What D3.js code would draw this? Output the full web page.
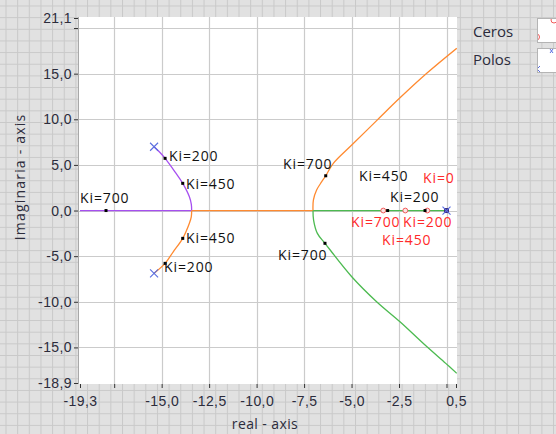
<!DOCTYPE html>
<html>
<head>
<meta charset="utf-8">
<script src="https://cdn.jsdelivr.net/npm/d3@7"></script>
<style>
  html, body { margin: 0; padding: 0; background: #e1e1e1; }
  svg { display: block; font-family: "Open Sans", sans-serif; }
  .tick-label { font-size: 14px; fill: #2c2c3c; letter-spacing: 0.4px; }
  .ki { font-size: 14px; letter-spacing: 0.9px; }
</style>
</head>
<body>
<svg id="chart" width="556" height="434"></svg>
<script>
(function () {
  "use strict";

  // axis ticks (values and shown labels)
  const xTicks = [-19.3, -17.5, -15, -12.5, -10, -7.5, -5, -2.5, 0, 0.5];
  const xTickHidden = [-17.5, 0];
  const yTicks = [-18.9, -15, -10, -5, 0, 5, 10, 15, 20, 21.1];
  const yTickHidden = [20];
  const xGrid = [-17.5, -15, -12.5, -10, -7.5, -5, -2.5, 0];
  const yGrid = [-15, -10, -5, 0, 5, 10, 15, 20];

  // root locus branches, [real, imag]
  const purpleCurve = [[-15.40, 6.99], [-15.10, 6.38], [-14.82, 5.72], [-14.30, 4.25], [-13.89, 2.98], [-13.54, 1.51], [-13.44, 0.70], [-13.42, 0]];
  const purpleReal = [[-13.42, 0], [-19.3, 0]];
  const orangeCurve = [[-15.40, -6.88], [-14.82, -5.79], [-14.39, -4.52], [-13.89, -3.05], [-13.54, -1.40], [-13.44, -0.70], [-13.42, 0]];
  const orangeReal = [[-13.42, 0], [-7.03, 0]];
  const orangeUpper = [[-7.03, 0], [-7.01, 1.15], [-6.84, 2.25], [-6.57, 3.16], [-6.36, 3.81], [-5.96, 5.17], [-4.99, 7.18], [-3.68, 9.85], [-2.45, 12.35], [-1.04, 15.04], [0.54, 17.78]];
  const greenReal = [[0, 0], [-7.03, 0]];
  const greenLower = [[-7.03, 0], [-7.00, -1.04], [-6.80, -2.50], [-6.40, -3.59], [-4.99, -7.25], [-3.68, -9.99], [-2.45, -12.19], [-1.13, -14.74], [-0.04, -16.75], [0.54, -17.84]];

  // open loop poles, zeros and gain points
  const poles = [[-15.40, 6.99], [-15.40, -6.88], [0, 0]];
  const zeros = [[-3.33, 0], [-2.17, 0], [-1.01, 0]];
  const kiPoints = [[-14.82, 5.72], [-13.89, 2.98], [-17.93, 0], [-13.89, -3.05], [-14.82, -5.79], [-6.36, 3.81], [-6.40, -3.59], [-3.10, 0], [-1.13, 0]];

  // gain labels: text, anchor point [px, px] of baseline start, colour group
  const kiLabels = [
    { text: "Ki=200", at: [169, 161], red: false },
    { text: "Ki=450", at: [186, 189], red: false },
    { text: "Ki=700", at: [80, 203], red: false },
    { text: "Ki=450", at: [186, 243], red: false },
    { text: "Ki=200", at: [164, 272], red: false },
    { text: "Ki=700", at: [283, 169], red: false },
    { text: "Ki=700", at: [278, 260], red: false },
    { text: "Ki=450", at: [359, 181], red: false },
    { text: "Ki=200", at: [390, 202], red: false },
    { text: "Ki=0", at: [423, 183], red: true },
    { text: "Ki=700", at: [351, 227], red: true },
    { text: "Ki=200", at: [403, 227], red: true },
    { text: "Ki=450", at: [382, 245], red: true }
  ];

  const legendItems = ["Ceros", "Polos"];

  const fmt = d3.formatLocale({ decimal: ",", thousands: ".", grouping: [3], currency: ["", ""], minus: "-" }).format(".1f");

  const svg = d3.select("#chart");
  const plot = { left: 80, right: 456, top: 18, bottom: 383 };

  const x = d3.scaleLinear().domain([-19.3, 0.5]).range([plot.left, plot.right]);
  const y = d3.scaleLinear().domain([-18.9, 21.1]).range([plot.bottom, plot.top]);

  // panel background grid
  const defs = svg.append("defs");
  const pat = defs.append("pattern")
    .attr("id", "panelGrid")
    .attr("patternUnits", "userSpaceOnUse")
    .attr("x", 5.5).attr("y", 5.5)
    .attr("width", 11.65).attr("height", 11.65);
  pat.append("rect").attr("width", 11.65).attr("height", 11.65).attr("fill", "#e1e1e1");
  pat.append("path").attr("d", "M0,0.5H11.65M0.5,0V11.65").attr("stroke", "#c9c9c9").attr("stroke-width", 1);

  defs.append("clipPath").attr("id", "plotClip")
    .append("rect")
    .attr("x", plot.left - 2).attr("y", plot.top - 1)
    .attr("width", plot.right - plot.left + 3).attr("height", plot.bottom - plot.top + 2);

  svg.append("rect").attr("width", 556).attr("height", 434).attr("fill", "url(#panelGrid)");

  svg.append("rect")
    .attr("x", plot.left - 2).attr("y", plot.top - 1)
    .attr("width", plot.right - plot.left + 3).attr("height", plot.bottom - plot.top + 2)
    .attr("fill", "#ffffff");

  // grid lines
  const grid = svg.append("g").attr("stroke", "#cbcbcb").attr("stroke-width", 1.2);
  grid.selectAll(".gx").data(xGrid).join("line")
    .attr("x1", d => Math.round(x(d)) + 0.5).attr("x2", d => Math.round(x(d)) + 0.5)
    .attr("y1", plot.top - 1).attr("y2", plot.bottom + 1);
  grid.selectAll(".gy").data(yGrid).join("line")
    .attr("y1", d => Math.round(y(d)) + 0.5).attr("y2", d => Math.round(y(d)) + 0.5)
    .attr("x1", plot.left - 2).attr("x2", plot.right + 1);

  // left axis line
  svg.append("line")
    .attr("x1", plot.left - 1.5).attr("x2", plot.left - 1.5)
    .attr("y1", plot.top - 1).attr("y2", plot.bottom + 1)
    .attr("stroke", "#a8a8a8");

  // axes
  const yAxis = svg.append("g")
    .attr("transform", `translate(${plot.left - 2},0)`)
    .call(d3.axisLeft(y).tickValues(yTicks).tickSize(4).tickPadding(2)
      .tickFormat(d => yTickHidden.includes(d) ? "" : fmt(d)));
  const xAxis = svg.append("g")
    .attr("transform", `translate(0,${plot.bottom + 1})`)
    .call(d3.axisBottom(x).tickValues(xTicks).tickSize(4).tickPadding(8)
      .tickFormat(d => xTickHidden.includes(d) ? "" : fmt(d)));
  [xAxis, yAxis].forEach(a => {
    a.select(".domain").remove();
    a.selectAll(".tick line").attr("stroke", "#333");
    a.selectAll(".tick text").attr("class", "tick-label").attr("font-family", null).attr("font-size", null);
  });

  // axis titles
  svg.append("text")
    .attr("class", "tick-label")
    .attr("x", 265).attr("y", 429)
    .attr("text-anchor", "middle")
    .text("real - axis");
  svg.append("text")
    .attr("class", "tick-label")
    .attr("transform", "translate(25,177) rotate(-90)")
    .attr("text-anchor", "middle")
    .style("letter-spacing", "1.2px")
    .text("Imaginaria - axis");

  // branches
  const layer = svg.append("g").attr("clip-path", "url(#plotClip)");
  const curved = d3.line().x(d => x(d[0])).y(d => y(d[1])).curve(d3.curveCatmullRom.alpha(0.5));
  const straight = d3.line().x(d => x(d[0])).y(d => y(d[1]));
  const branches = [
    { data: purpleReal, gen: straight, color: "#a64ff0" },
    { data: orangeReal, gen: straight, color: "#ff8a30" },
    { data: greenReal, gen: straight, color: "#4cba50" },
    { data: purpleCurve, gen: curved, color: "#a64ff0" },
    { data: orangeCurve, gen: curved, color: "#ff8a30" },
    { data: orangeUpper, gen: curved, color: "#ff8a30" },
    { data: greenLower, gen: curved, color: "#4cba50" }
  ];
  layer.selectAll(".branch").data(branches).join("path")
    .attr("class", "branch")
    .attr("d", d => d.gen(d.data))
    .attr("fill", "none")
    .attr("stroke", d => d.color)
    .attr("stroke-width", 1.3);

  // zeros
  layer.selectAll(".zero").data(zeros).join("circle")
    .attr("cx", d => x(d[0])).attr("cy", d => y(d[1]))
    .attr("r", 2.4)
    .attr("fill", "#fbe4e4")
    .attr("stroke", "#f05a5a");

  // gain points
  layer.selectAll(".ki-pt").data(kiPoints).join("rect")
    .attr("x", d => x(d[0]) - 1.5).attr("y", d => y(d[1]) - 1.5)
    .attr("width", 3).attr("height", 3)
    .attr("fill", "#000");

  // pole at origin has a dark square under its cross
  layer.append("rect")
    .attr("x", x(0) - 2.5).attr("y", y(0) - 2.5)
    .attr("width", 5).attr("height", 5)
    .attr("fill", "#3a2a7a");

  // poles
  const cross = d => `M${x(d[0]) - 4},${y(d[1]) - 4}L${x(d[0]) + 4},${y(d[1]) + 4}M${x(d[0]) - 4},${y(d[1]) + 4}L${x(d[0]) + 4},${y(d[1]) - 4}`;
  layer.selectAll(".pole").data(poles).join("path")
    .attr("d", cross)
    .attr("stroke", "#5a6ee0")
    .attr("stroke-width", 1.1)
    .attr("fill", "none");

  // gain labels
  svg.selectAll(".ki").data(kiLabels).join("text")
    .attr("class", "ki")
    .attr("x", d => d.at[0]).attr("y", d => d.at[1])
    .attr("fill", d => d.red ? "#ff2a2a" : "#111")
    .text(d => d.text);

  // legend
  const legend = svg.append("g");
  legend.selectAll("text").data(legendItems).join("text")
    .attr("x", 473).attr("y", (d, i) => 37 + i * 28)
    .attr("font-size", 15)
    .attr("fill", "#2c2c3c")
    .text(d => d);
  legend.selectAll("rect").data(legendItems).join("rect")
    .attr("x", 537.5).attr("y", (d, i) => 18.5 + i * 30)
    .attr("width", 30).attr("height", 24)
    .attr("fill", "#fff")
    .attr("stroke", "#b4b4b4");
  [0, 1].forEach(i => {
    defs.append("clipPath").attr("id", `legClip${i}`)
      .append("rect").attr("x", 538).attr("y", 19 + i * 30).attr("width", 30).attr("height", 23);
  });
  const l0 = legend.append("g").attr("clip-path", "url(#legClip0)");
  l0.append("circle").attr("cx", 554).attr("cy", 20).attr("r", 3).attr("fill", "none").attr("stroke", "#f05a5a");
  l0.append("circle").attr("cx", 536.5).attr("cy", 37).attr("r", 3).attr("fill", "none").attr("stroke", "#f05a5a");
  const l1 = legend.append("g").attr("clip-path", "url(#legClip1)");
  l1.append("path").attr("d", "M550,49L553,53M550,53L553,49M534,66L540,72M534,72L540,66")
    .attr("stroke", "#5a6ee0").attr("fill", "none");
})();
</script>
</body>
</html>
